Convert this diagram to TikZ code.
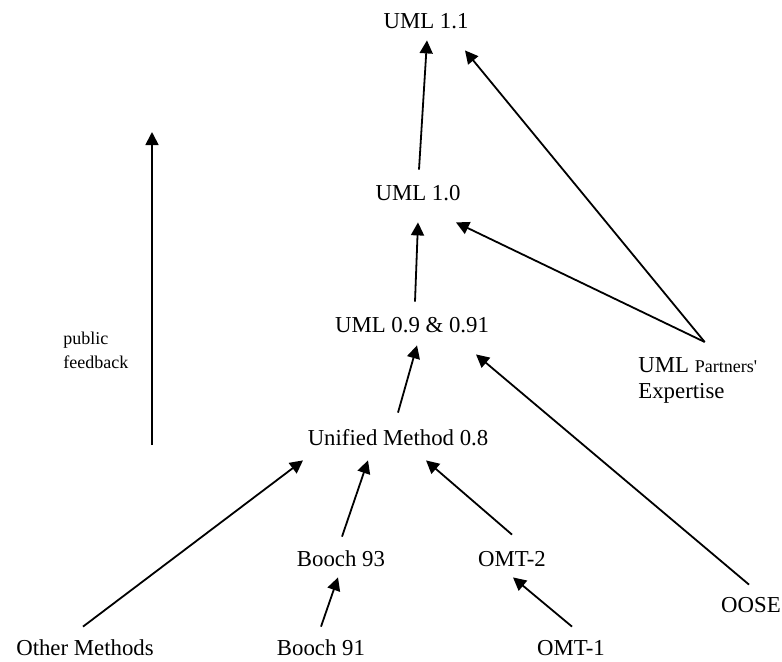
\documentclass[tikz,border=0pt]{standalone}
\usepackage{fontspec}
\setmainfont{Liberation Serif}
\usepackage{tikz}
\usetikzlibrary{arrows.meta, positioning}
\newcommand{\labelsize}{\fontsize{11.4}{13}\selectfont}
\newcommand{\partsize}{\fontsize{9}{13}\selectfont}
\newcommand{\notesize}{\fontsize{9}{12}\selectfont}
\tikzstyle{version} = [% a method or a release of the language
  inner sep=0pt,
  text height=7.5pt,
  text depth=0pt,
  anchor=base,
  font=\labelsize
  ]
\tikzstyle{source} = [% a contribution written over two lines
  inner sep=0pt,
  align=left,
  anchor=north west,
  font=\labelsize
  ]
\tikzstyle{note} = [% small side note
  inner sep=0pt,
  align=left,
  anchor=north west,
  font=\notesize
  ]
\tikzstyle{arrow} = [% arrow format
  line width=0.9pt,
  -{Triangle[length=6.5pt, width=6.5pt]}
  ]

\begin{document}
\begin{tikzpicture}[x=0.5pt, y=-0.5pt]
\useasboundingbox (0,0) rectangle (782,661);

%%% Nodes
\node[version] (uml11) at (426,28) {UML 1.1};
\node[version] (uml10) at (418,200) {UML 1.0};
\node[version] (uml09) at (412,332) {UML 0.9 \& 0.91};
\node[version] (unified) at (398,445) {Unified Method 0.8};
\node[version] (booch93) at (341,566) {Booch 93};
\node[version] (omt2) at (512,566) {OMT-2};
\node[version] (other) at (85,655) {Other Methods};
\node[version] (booch91) at (321,655) {Booch 91};
\node[version] (omt1) at (571,655) {OMT-1};
\node[version] (oose) at (751,612) {OOSE};
\node[source] (partners) at (638,357) {UML {\partsize Partners\textquotesingle}\\Expertise};
\node[note] (feedback) at (63,332) {public\\feedback};
\coordinate (fbbottom) at (152,445);
\coordinate (fbtop) at (152,132);

%%% Arrows
\draw[arrow] ([shift={(1,-15)}]uml10.north) -- ([shift={(1,12)}]uml11.south);
\draw[arrow] ([shift={(3,-15)}]uml09.north) -- ([shift={(0,22)}]uml10.south);
\draw[arrow] ([shift={(0,-17)}]unified.north) -- ([shift={(5,13)}]uml09.south);
\draw[arrow] ([shift={(1,-14)}]booch93.north) -- ([shift={(-30,15)}]unified.south);
\draw[arrow] ([shift={(0,-16)}]omt2.north) -- ([shift={(28,15)}]unified.south);
\draw[arrow] ([shift={(-2,-13)}]other.north) -- ([shift={(-95,15)}]unified.south);
\draw[arrow] ([shift={(0,-13)}]booch91.north) -- ([shift={(-3,11)}]booch93.south);
\draw[arrow] ([shift={(1,-13)}]omt1.north) -- ([shift={(1,11)}]omt2.south);
\draw[arrow] ([shift={(-2,-12)}]oose.north) -- ([shift={(64,22)}]uml09.south);
\draw[arrow] ([shift={(7,-15)}]partners.north) -- ([shift={(38,22)}]uml10.south);
\draw[arrow] ([shift={(7,-15)}]partners.north) -- ([shift={(39,22)}]uml11.south);
\draw[arrow] (fbbottom) -- (fbtop);

\end{tikzpicture}
\end{document}
